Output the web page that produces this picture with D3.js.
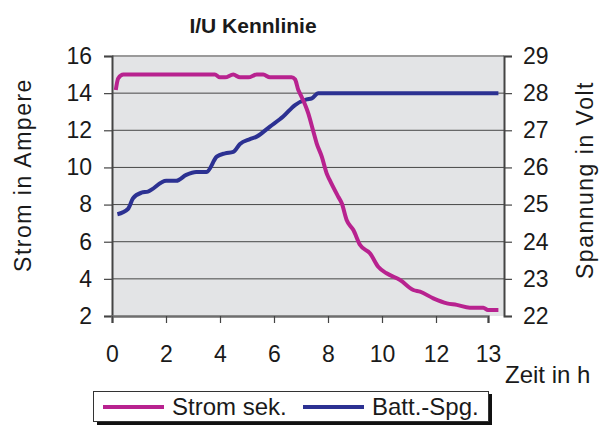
<!DOCTYPE html>
<html>
<head>
<meta charset="utf-8">
<script src="https://cdn.jsdelivr.net/npm/d3@7"></script>
<style>
  body { margin: 0; background: #fff; }
  text { font-family: "Liberation Sans", Arial, sans-serif; fill: #1a1a1a; }
</style>
</head>
<body>
<div id="chart"></div>
<script>
// Strom sek. (Ampere, left axis)
var stromHours = [0.14, 0.23, 0.42, 3.81, 4.0, 4.19, 4.49, 4.74, 5.05, 5.36, 5.6, 5.85, 6.65, 6.78, 6.9, 6.96,
                  7.27, 7.46, 7.58, 7.77, 7.95, 8.07, 8.38, 8.51, 8.69, 8.94, 9.19, 9.56, 9.86, 10.17, 10.67,
                  11.16, 11.41, 11.9, 12.21, 12.4, 12.65, 12.91, 13.0, 13.2];
var stromAmps = [14.17, 14.8, 15.0, 15.0, 14.85, 14.85, 15.0, 14.85, 14.85, 15.0, 15.0, 14.85, 14.85, 14.74, 14.17, 13.99,
                 12.91, 11.92, 11.3, 10.58, 9.68, 9.3, 8.42, 8.07, 7.17, 6.63, 5.82, 5.37, 4.65, 4.3, 3.94,
                 3.4, 3.31, 2.95, 2.68, 2.6, 2.45, 2.45, 2.32, 2.32];

// Batt.-Spg. (Volt, right axis)
var spgHours = [0.2, 0.59, 0.78, 1.09, 1.33, 2.01, 2.38, 2.75, 3.12, 3.5, 3.88, 4.19, 4.49, 4.74, 5.11, 5.36,
                5.85, 6.34, 6.78, 7.21, 7.4, 7.64, 13.2];
var spgVolts = [24.74, 24.88, 25.17, 25.32, 25.35, 25.64, 25.64, 25.80, 25.88, 25.88, 26.29, 26.38, 26.42, 26.63, 26.76, 26.83,
                27.10, 27.37, 27.68, 27.83, 27.86, 28.0, 28.0];

var xTicks = [0, 2, 4, 6, 8, 10, 12, 13];
var ampTicks = [2, 4, 6, 8, 10, 12, 14, 16];
var voltTicks = [22, 23, 24, 25, 26, 27, 28, 29];
var seriesNames = ["Strom sek.", "Batt.-Spg."];
var seriesColors = ["#b8228f", "#2c3192"];

function init(){
    var w = 614;
    var h = 425;
    var left = 112, right = 504, top = 56, bottom = 316;

    var svg = d3.select("#chart")
      .append("svg")
      .attr("width", w)
      .attr("height", h);

    // category-like time axis: 12 -> 13 is drawn narrower than the other steps
    var xScale = d3.scaleLinear()
      .domain([0, 12, 13])
      .range([left, 436, 488]);

    var yAmp = d3.scaleLinear()
      .domain([2, 16])
      .range([bottom, top]);

    var yVolt = d3.scaleLinear()
      .domain([22, 29])
      .range([bottom, top]);

    // plot area
    svg.append("rect")
      .attr("x", left)
      .attr("y", top)
      .attr("width", right - left)
      .attr("height", bottom - top)
      .attr("fill", "#e3e4e6");

    svg.append("line")
      .attr("x1", left).attr("x2", right)
      .attr("y1", top).attr("y2", top)
      .attr("stroke", "#9a9a9a")
      .attr("stroke-width", 2);

    // gridlines
    svg.append("g")
      .selectAll("line")
      .data(ampTicks.slice(1, -1))
      .enter()
      .append("line")
      .attr("x1", left).attr("x2", right)
      .attr("y1", function(d){ return yAmp(d); })
      .attr("y2", function(d){ return yAmp(d); })
      .attr("stroke", "#474747")
      .attr("stroke-width", 1);

    var yAxisL = d3.axisLeft(yAmp).tickValues(ampTicks).tickSize(8).tickPadding(12).tickFormat(d3.format("d"));
    var yAxisR = d3.axisRight(yVolt).tickValues(voltTicks).tickSize(8).tickPadding(11).tickFormat(d3.format("d"));
    var xAxis = d3.axisBottom(xScale).tickValues(xTicks).tickSize(7).tickPadding(23).tickFormat(d3.format("d"));

    var gL = svg.append("g").attr("transform", "translate(" + left + ",0)").call(yAxisL);
    var gR = svg.append("g").attr("transform", "translate(" + right + ",0)").call(yAxisR);
    var gX = svg.append("g").attr("transform", "translate(0," + bottom + ")").call(xAxis);

    [gL, gR, gX].forEach(function(g){
        g.select(".domain").attr("stroke", "#444").attr("stroke-width", 2);
        g.selectAll(".tick line").attr("stroke", "#444").attr("stroke-width", 1.2);
        g.selectAll(".tick text")
          .style("font-family", "Liberation Sans, Arial, sans-serif")
          .style("font-size", "23px")
          .attr("fill", "#1a1a1a");
    });
    gX.select(".domain").attr("stroke", "#6e6e6e").attr("stroke-width", 2.5);

    // series lines
    var stromLine = d3.line()
      .x(function(d){ return xScale(d[0]); })
      .y(function(d){ return yAmp(d[1]); })
      .curve(d3.curveMonotoneX);

    var spgLine = d3.line()
      .x(function(d){ return xScale(d[0]); })
      .y(function(d){ return yVolt(d[1]); })
      .curve(d3.curveMonotoneX);

    svg.append("path")
      .datum(d3.zip(spgHours, spgVolts))
      .attr("d", spgLine)
      .attr("fill", "none")
      .attr("stroke", seriesColors[1])
      .attr("stroke-width", 4)
      .attr("stroke-linejoin", "round");

    svg.append("path")
      .datum(d3.zip(stromHours, stromAmps))
      .attr("d", stromLine)
      .attr("fill", "none")
      .attr("stroke", seriesColors[0])
      .attr("stroke-width", 4)
      .attr("stroke-linejoin", "round");

    // titles
    svg.append("text")
      .attr("x", 253).attr("y", 33)
      .attr("text-anchor", "middle")
      .style("font-size", "21px")
      .style("font-weight", "bold")
      .text("I/U Kennlinie");

    svg.append("text")
      .attr("transform", "translate(31,175) rotate(-90)")
      .attr("text-anchor", "middle")
      .style("font-size", "23px")
      .style("letter-spacing", "1.5px")
      .text("Strom in Ampere");

    svg.append("text")
      .attr("transform", "translate(593,180) rotate(-90)")
      .attr("text-anchor", "middle")
      .style("font-size", "23px")
      .style("letter-spacing", "1.5px")
      .text("Spannung in Volt");

    svg.append("text")
      .attr("x", 505).attr("y", 383)
      .style("font-size", "24px")
      .text("Zeit in h");

    // legend
    var legend = svg.append("g");
    legend.append("rect")
      .attr("x", 97).attr("y", 394)
      .attr("width", 395).attr("height", 31)
      .attr("fill", "#111");
    legend.append("rect")
      .attr("x", 93.5).attr("y", 391.5)
      .attr("width", 395).attr("height", 30)
      .attr("fill", "#fff")
      .attr("stroke", "#333")
      .attr("stroke-width", 1);

    var legendX = [103, 303];
    seriesNames.forEach(function(name, i){
        legend.append("line")
          .attr("x1", legendX[i]).attr("x2", legendX[i] + 61)
          .attr("y1", 407).attr("y2", 407)
          .attr("stroke", seriesColors[i])
          .attr("stroke-width", 4);
        legend.append("text")
          .attr("x", legendX[i] + 69).attr("y", 415)
          .style("font-size", "24px")
          .text(name);
    });
}

window.onload = init;
</script>
</body>
</html>
